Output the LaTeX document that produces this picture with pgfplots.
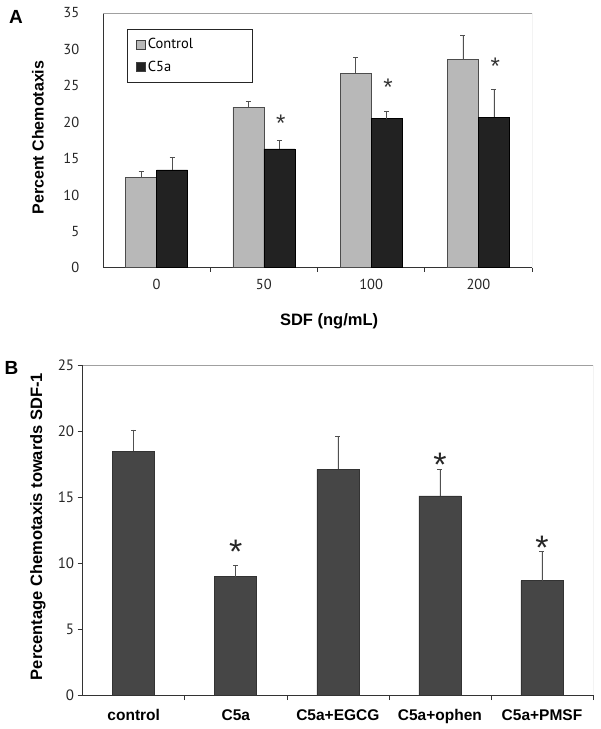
\documentclass[border=0pt]{standalone}
\usepackage{pgfplots}
\pgfplotsset{compat=1.18}
\usepackage{fontspec}
\setmainfont{Liberation Sans}
\newfontfamily\tickfont{PT Sans}
\definecolor{lightbar}{HTML}{B8B8B8}
\definecolor{darkbar}{HTML}{222222}
\definecolor{midbar}{HTML}{464646}
\definecolor{framegray}{HTML}{A0A0A0}
\definecolor{errgray}{HTML}{505050}
\begin{document}
\begin{tikzpicture}[x=1pt,y=1pt]
\useasboundingbox (0,0) rectangle (601,729);
% ---------------- Panel A ----------------
\begin{axis}[
  at={(103pt,461.3pt)}, anchor=south west,
  scale only axis, width=429pt, height=254.7pt,
  xmin=-0.5, xmax=3.5, ymin=0, ymax=35,
  axis x line*=bottom, axis y line*=left,
  axis line style={-, draw=black!80, line width=0.7pt},
  ybar=0pt, bar width=31pt,
  xtick={0,1,2,3}, xticklabels={0,50,100,200},
  major x tick style={draw=none},
  minor xtick={0.5,1.5,2.5,3.5},
  minor x tick style={draw=black!80, line width=0.6pt},
  minor tick length=4pt, tick align=outside,
  ytick={0,5,...,35}, ytick style={draw=none},
  tick label style={font=\tickfont\fontsize{14.5}{14.5}\selectfont, text=black!85},
  /pgf/number format/assume math mode=true,
  yticklabel style={xshift=-16pt},
  xticklabel style={yshift=-4pt},
  ylabel={Percent Chemotaxis},
  ylabel style={at={(rel axis cs:-0.1515,0.511)}, anchor=center, font=\bfseries\fontsize{16}{16}\selectfont},
  xlabel={SDF (ng/mL)},
  xlabel style={at={(rel axis cs:0.527,-0.212)}, anchor=center, font=\bfseries\fontsize{16.5}{16.5}\selectfont},
  legend style={at={(0.056,0.937)}, anchor=north west, draw=black!85, line width=0.6pt,
    font=\tickfont\fontsize{14.5}{14.5}\selectfont, inner xsep=9pt, inner ysep=7pt, row sep=7pt},
  legend cell align=left,
  legend image code/.code={\draw[#1, draw=black!75, line width=0.5pt] (0pt,-4.5pt) rectangle (9pt,4.5pt);},
]
\addplot[fill=lightbar, draw=black!70, line width=0.6pt,
  error bars/.cd, y dir=plus, y explicit,
  error bar style={errgray, line width=0.7pt},
  error mark options={errgray, rotate=90, mark size=2.5pt, line width=0.7pt}]
  coordinates {(0,12.38) +- (0,0.82) (1,22.06) +- (0,0.74) (2,26.74) +- (0,2.16) (3,28.57) +- (0,3.30)};
\addlegendentry{\makebox[93pt][l]{Control}}
\addplot[fill=darkbar, draw=black, line width=0.6pt,
  error bars/.cd, y dir=plus, y explicit,
  error bar style={errgray, line width=0.7pt},
  error mark options={errgray, rotate=90, mark size=2.5pt, line width=0.7pt}]
  coordinates {(0,13.44) +- (0,1.75) (1,16.33) +- (0,1.14) (2,20.50) +- (0,1.00) (3,20.69) +- (0,3.81)};
\addlegendentry{\makebox[93pt][l]{C5a}}
\node[font=\fontsize{24}{24}\selectfont, anchor=base, xshift=17pt, yshift=-13pt, text=black!80] at (axis cs:1,20.45) {*};
\node[font=\fontsize{24}{24}\selectfont, anchor=base, xshift=17pt, yshift=-13pt, text=black!80] at (axis cs:2,25.4) {*};
\node[font=\fontsize{24}{24}\selectfont, anchor=base, xshift=17pt, yshift=-13pt, text=black!80] at (axis cs:3,28.3) {*};
\draw[framegray, line width=0.6pt] (rel axis cs:0,1) -- (rel axis cs:1,1) -- (rel axis cs:1,0);
\end{axis}
% ---------------- Panel B ----------------
\begin{axis}[
  at={(82.7pt,34pt)}, anchor=south west,
  scale only axis, width=510.3pt, height=330pt,
  xmin=-0.5, xmax=4.5, ymin=0, ymax=25,
  axis x line*=bottom, axis y line*=left,
  axis line style={-, draw=black!80, line width=0.7pt},
  ybar=0pt, bar width=42pt,
  xtick={0,1,2,3,4}, xticklabels={control,C5a,C5a+EGCG,C5a+ophen,C5a+PMSF},
  major x tick style={draw=none},
  minor xtick={0.5,1.5,2.5,3.5,4.5},
  minor x tick style={draw=black!80, line width=0.6pt},
  minor tick length=5pt, tick align=outside,
  ytick={0,5,...,25}, major y tick style={draw=black!80, line width=0.6pt},
  major tick length=5pt,
  yticklabel style={font=\tickfont\fontsize{15}{15}\selectfont, text=black!85},
  /pgf/number format/assume math mode=true,
  xticklabel style={font=\bfseries\fontsize{15.5}{15.5}\selectfont, yshift=-6pt},
  ylabel={Percentage Chemotaxis towards SDF-1},
  ylabel style={at={(rel axis cs:-0.0876,0.5106)}, anchor=center, font=\bfseries\fontsize{16.5}{16.5}\selectfont},
]
\addplot[fill=midbar, draw=black!80, line width=0.6pt,
  error bars/.cd, y dir=plus, y explicit,
  error bar style={errgray, line width=0.7pt},
  error mark options={errgray, rotate=90, mark size=2.5pt, line width=0.7pt}]
  coordinates {(0,18.46) +- (0,1.62) (1,8.96) +- (0,0.84) (2,17.10) +- (0,2.47) (3,15.08) +- (0,2.02) (4,8.66) +- (0,2.20)};
\node[font=\fontsize{34}{34}\selectfont, anchor=base, yshift=-15pt, text=black!85] at (axis cs:1,11.1) {*};
\node[font=\fontsize{34}{34}\selectfont, anchor=base, yshift=-15pt, text=black!85] at (axis cs:3,17.7) {*};
\node[font=\fontsize{34}{34}\selectfont, anchor=base, yshift=-15pt, text=black!85] at (axis cs:4,11.4) {*};
\draw[framegray, line width=0.6pt] (rel axis cs:0,1) -- (rel axis cs:1,1) -- (rel axis cs:1,0);
\end{axis}
% panel letters
\node[font=\bfseries\fontsize{19}{19}\selectfont] at (16pt,712.5pt) {A};
\node[font=\bfseries\fontsize{19}{19}\selectfont] at (11.5pt,361pt) {B};
\end{tikzpicture}
\end{document}
